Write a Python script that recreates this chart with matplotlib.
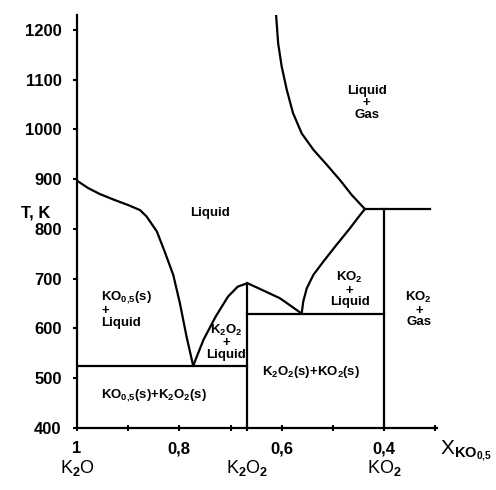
import matplotlib
matplotlib.use('Agg')
import matplotlib.pyplot as plt
import matplotlib.transforms as mtransforms

# phase diagram K2O - KO2
left_liq_x = [1.0, 0.978, 0.955, 0.926, 0.900, 0.877, 0.864, 0.844, 0.830,
              0.812, 0.799, 0.786, 0.773]
left_liq_t = [897, 882, 870, 858, 848, 838, 825, 795, 758, 708, 651, 584, 525]

dome_x = [0.773, 0.753, 0.729, 0.705, 0.686, 0.667, 0.629, 0.604, 0.583, 0.561]
dome_t = [525, 577, 624, 664, 684, 691, 673, 661, 646, 630]

ko2_liq_x = [0.561, 0.558, 0.551, 0.538, 0.519, 0.493, 0.467, 0.447, 0.4375]
ko2_liq_t = [630, 654, 681, 708, 734, 768, 801, 828, 840]

gas_x = [0.4375, 0.463, 0.486, 0.512, 0.538, 0.561, 0.578, 0.590, 0.600,
         0.607, 0.611]
gas_t = [840, 868, 898, 929, 959, 992, 1033, 1079, 1126, 1173, 1230]

# invariant lines: (x0, x1, T)
horiz_lines = [(1.0, 0.667, 525), (0.667, 0.4, 630), (0.4375, 0.31, 840)]
# vertical lines: (x, Tmax)
vert_lines = [(0.667, 691), (0.4, 840)]

x_ticks = [1.0, 0.9, 0.8, 0.7, 0.667, 0.6, 0.5, 0.4, 0.3]
x_tick_labels = ['1', '', '0,8', '', '', '0,6', '', '0,4', '']
y_ticks = [400, 500, 600, 700, 800, 900, 1000, 1100, 1200]

compounds = ['K$_2$O', 'K$_2$O$_2$', 'KO$_2$']
compound_x = [1.0, 0.667, 0.4]

plt.rcParams.update({
    'font.family': 'Liberation Sans',
    'font.weight': 'bold',
    'mathtext.fontset': 'custom',
    'mathtext.rm': 'Liberation Sans:bold',
    'mathtext.it': 'Liberation Sans:bold:italic',
    'mathtext.bf': 'Liberation Sans:bold',
    'mathtext.default': 'rm',
})

LW = 1.6
fig = plt.figure(figsize=(4.96, 4.90), dpi=100)
ax = fig.add_axes([0.1552, 0.1265, 0.726, 0.843])

ax.plot(left_liq_x, left_liq_t, color='black', lw=LW)
ax.plot(dome_x, dome_t, color='black', lw=LW)
ax.plot(ko2_liq_x, ko2_liq_t, color='black', lw=LW)
ax.plot(gas_x, gas_t, color='black', lw=LW)
for x0, x1, t in horiz_lines:
    ax.plot([x0, x1], [t, t], color='black', lw=LW)
for x, t in vert_lines:
    ax.plot([x, x], [400, t], color='black', lw=LW)

ax.set_xlim(1.0, 0.2965)
ax.set_ylim(400, 1230)

for side in ['top', 'right']:
    ax.spines[side].set_visible(False)
for side in ['left', 'bottom']:
    ax.spines[side].set_linewidth(LW)

ax.set_xticks(x_ticks)
ax.set_xticklabels(x_tick_labels)
ax.set_yticks(y_ticks)
ax.tick_params(axis='x', direction='inout', length=5, width=1.5, pad=7, labelsize=12)
ax.tick_params(axis='y', direction='out', length=3, width=1.5, pad=8, labelsize=12)

# compound names below the axis
trans = mtransforms.blended_transform_factory(ax.transData, ax.transAxes)
for name, x in zip(compounds, compound_x):
    ax.text(x, -0.097, name, transform=trans, ha='center', va='center',
            fontsize=13, fontweight='normal')

ax.text(1.008, -0.065, r'X$_{\mathrm{KO}_{0{,}5}}$', transform=ax.transAxes,
        ha='left', va='baseline', fontsize=15, fontweight='normal')
ax.text(-0.114, 0.52, 'T, K', transform=ax.transAxes, ha='center',
        va='center', fontsize=12)

# region labels
FS = 9.5
ax.text(0.740, 832, 'Liquid', ha='center', va='center', fontsize=FS)
ax.text(0.434, 1053, 'Liquid\n+\nGas', ha='center', va='center',
        fontsize=FS, linespacing=0.95)
ax.text(0.953, 639, 'KO$_{0{,}5}$(s)\n+\nLiquid', ha='left', va='center',
        fontsize=FS, linespacing=0.9, multialignment='left')
ax.text(0.708, 573, 'K$_2$O$_2$\n+\nLiquid', ha='center', va='center',
        fontsize=FS, linespacing=0.95)
ax.text(0.850, 466, 'KO$_{0{,}5}$(s)+K$_2$O$_2$(s)', ha='center',
        va='center', fontsize=FS)
ax.text(0.467, 679, 'KO$_2$\n+\nLiquid', ha='center', va='center',
        fontsize=FS, linespacing=0.95)
ax.text(0.332, 639, 'KO$_2$\n+\nGas', ha='center', va='center',
        fontsize=FS, linespacing=0.95)
ax.text(0.543, 513, 'K$_2$O$_2$(s)+KO$_2$(s)', ha='center', va='center',
        fontsize=FS)

fig.savefig('out.png', dpi=100, facecolor='white')
